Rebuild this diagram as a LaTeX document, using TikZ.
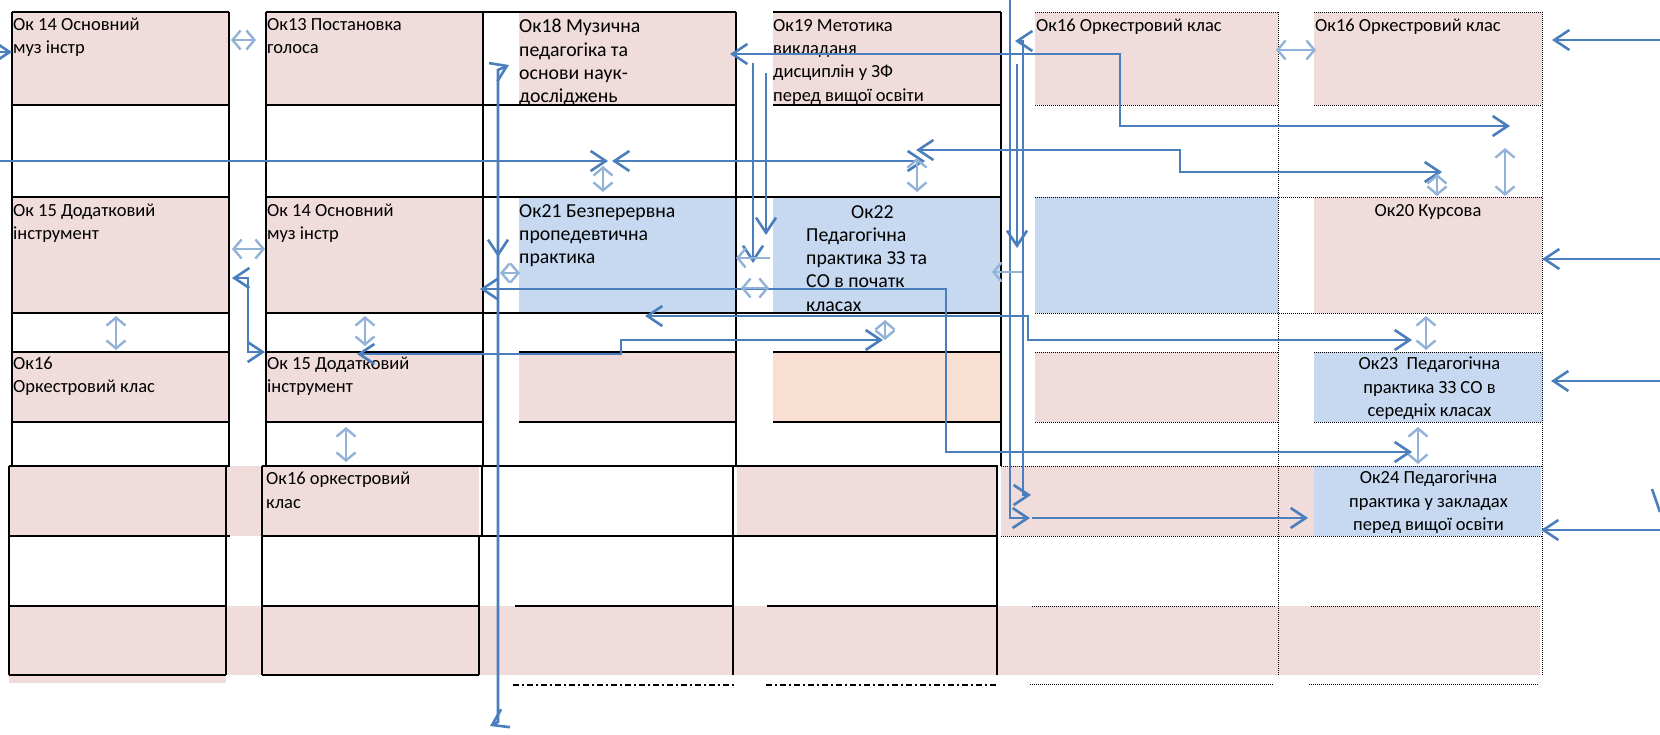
\documentclass[tikz,border=0pt]{standalone}
\usepackage{fontspec}
\setmainfont{Carlito}
\usetikzlibrary{positioning,arrows.meta}

\definecolor{cellpink}{RGB}{239,220,219}
\definecolor{cellblue}{RGB}{198,217,240}
\definecolor{cellpeach}{RGB}{249,223,210}
\definecolor{linkblue}{RGB}{74,126,188}

\begin{document}
\begin{tikzpicture}[
    x=1pt,y=-1pt,
    cell/.style n args={3}{
        fill=#1,minimum width=#2,minimum height=#3,
        anchor=north west,inner sep=0pt,outer sep=0pt
    },
    txt/.style={
        anchor=north west,inner sep=0pt,align=left,
        font=\fontsize{18.5}{23.3}\selectfont
    },
    bigtxt/.style={
        txt,font=\fontsize{19.8}{23.3}\selectfont
    },
    ctxt/.style={
        anchor=north,inner sep=0pt,align=center,
        font=\fontsize{18.5}{23.3}\selectfont
    },
    rule/.style={draw=black,line width=1.1pt},
    thickrule/.style={draw=black,line width=2.4pt},
    dotrule/.style={draw=black,line width=1pt,dash pattern=on 1pt off 1pt},
    dashdot_rule/.style={draw=black,line width=2pt,dash pattern=on 6pt off 3pt on 2pt off 3pt},
    link/.style={
        draw=linkblue,line width=2.6pt,
        >={Straight Barb[length=15pt,width=20pt]}
    },
    flick/.style={
        <->,draw=linkblue!60,line width=2.4pt,
        >={Straight Barb[length=8pt,width=19pt]}
    }
]
    \fill[white] (0,0) rectangle (1660,734);
    \useasboundingbox (0,0) rectangle (1660,734);

    % row 1
    \node[cell={cellpink}{217}{93}] (ok14a) at (12,12) {};
    \node[cell={cellpink}{217}{93}] (ok13) at (266,12) {};
    \node[cell={cellpink}{217}{93}] (ok18) at (519,12) {};
    \node[cell={cellpink}{228}{93}] (ok19) at (773,12) {};
    \node[cell={cellpink}{243}{93}] (ok16a) at (1035,12) {};
    \node[cell={cellpink}{228}{93}] (ok16b) at (1314,12) {};
    % row 3
    \node[cell={cellpink}{217}{116}] (ok15a) at (12,197) {};
    \node[cell={cellpink}{217}{116}] (ok14b) at (266,197) {};
    \node[cell={cellblue}{217}{116}] (ok21) at (519,197) {};
    \node[cell={cellblue}{228}{116}] (ok22) at (773,197) {};
    \node[cell={cellblue}{243}{116}] (free5) at (1035,197) {};
    \node[cell={cellpink}{228}{116}] (ok20) at (1314,197) {};
    % row 5
    \node[cell={cellpink}{217}{70}] (ok16c) at (12,352) {};
    \node[cell={cellpink}{217}{70}] (ok15b) at (266,352) {};
    \node[cell={cellpink}{217}{70}] (free3) at (519,352) {};
    \node[cell={cellpeach}{228}{70}] (free4) at (773,352) {};
    \node[cell={cellpink}{243}{70}] (free5b) at (1035,352) {};
    \node[cell={cellblue}{229}{70}] (ok23) at (1314,352) {};
    % lower table
    \node[cell={cellpink}{253}{70}] (low1) at (9,466) {};
    \node[cell={cellpink}{217}{70}] (ok16d) at (262,466) {};
    \node[cell={cellpink}{261}{70}] (low4) at (737,466) {};
    \node[cell={cellpink}{313}{70}] (low5) at (1001,466) {};
    \node[cell={cellblue}{227}{70}] (ok24) at (1314,466) {};
    \node[cell={cellpink}{1531}{69}] (low9) at (9,606) {};
    \node[cell={cellpink}{217}{8}] (low9a) at (9,675) {};

    % solid grid
    \foreach \y in {12,105,197,313,352,422}{
        \draw[rule] (12,\y) -- (229,\y);
        \draw[rule] (266,\y) -- (483,\y);
    }
    \foreach \y in {12,105,197,313} \draw[rule] (483,\y) -- (736,\y);
    \foreach \y in {352,422} \draw[rule] (519,\y) -- (736,\y);
    \foreach \y in {12,105,352,422} \draw[rule] (773,\y) -- (1001,\y);
    \foreach \y in {197,313} \draw[rule] (736,\y) -- (1001,\y);
    \foreach \x in {12,229,266,483,736,1001} \draw[rule] (\x,12) -- (\x,466);

    \draw[thickrule] (9,466) -- (230,466) (262,466) -- (998,466);
    \draw[thickrule] (9,536) -- (230,536) (262,536) -- (998,536);
    \draw[thickrule] (262,536) rectangle (479,606);
    \draw[rule] (9,606) -- (226,606) (515,606) -- (733,606);
    \draw[thickrule] (767,606) -- (997,606);
    \draw[rule] (9,675) -- (226,675) (262,675) -- (479,675);
    \foreach \x in {9,226,262,733,997} \draw[rule] (\x,466) -- (\x,675);
    \draw[thickrule] (482,466) -- (482,536);
    \draw[rule] (479,606) -- (479,675);

    % dotted grid
    \draw[dotrule] (1035,12) -- (1278,12) (1035,105) -- (1278,105);
    \draw[dotrule] (1314,12) -- (1542,12) (1314,105) -- (1542,105);
    \draw[dotrule] (1035,197) -- (1542,197) (1035,313) -- (1542,313);
    \draw[dotrule] (1035,352) -- (1278,352) (1035,422) -- (1278,422);
    \draw[dotrule] (1314,352) -- (1542,352) (1314,422) -- (1542,422);
    \draw[dotrule] (1001,466) -- (1542,466) (1001,536) -- (1542,536);
    \draw[dotrule] (1032,606) -- (1276,606) (1311,606) -- (1540,606);
    \draw[dotrule] (1030,684) -- (1274,684) (1309,684) -- (1539,684);
    \draw[dotrule] (1278,12) -- (1278,675) (1542,12) -- (1542,675);
    \draw[dashdot_rule] (513,685) -- (734,685) (766,685) -- (997,685);

    % texts
    \node[txt] (t14a) at ([shift={(1,6)}]ok14a.north west) {Ок 14 Основний\\муз інстр};
    \node[txt] (t13) at ([shift={(1,6)}]ok13.north west) {Ок13 Постановка\\голоса};
    \node[bigtxt] (t18) at ([shift={(0,7)}]ok18.north west) {Ок18 Музична\\педагогіка та\\основи наук-\\досліджень};
    \node[txt] (t19) at ([shift={(0,7)}]ok19.north west) {Ок19 Метотика\\викладаня\\дисциплін у ЗФ\\перед вищої освіти};
    \node[txt] (t16a) at ([shift={(1,7)}]ok16a.north west) {Ок16 Оркестровий клас};
    \node[txt] (t16b) at ([shift={(1,7)}]ok16b.north west) {Ок16 Оркестровий клас};
    \node[txt] (t15a) at ([shift={(1,7)}]ok15a.north west) {Ок 15 Додатковий\\інструмент};
    \node[txt] (t14b) at ([shift={(1,7)}]ok14b.north west) {Ок 14 Основний\\муз інстр};
    \node[bigtxt] (t21) at ([shift={(0,7)}]ok21.north west) {Ок21 Безперервна\\пропедевтична\\практика};
    \node[bigtxt] (t22) at ([shift={(33,8)}]ok22.north west) {\hspace*{45pt}Ок22\\Педагогічна\\практика ЗЗ та\\СО в початк\\класах};
    \node[ctxt] (t20) at ([shift={(0,7)}]ok20.north) {Ок20 Курсова};
    \node[txt] (t16c) at ([shift={(1,5)}]ok16c.north west) {Ок16\\Оркестровий клас};
    \node[txt] (t15b) at ([shift={(1,5)}]ok15b.north west) {Ок 15 Додатковий\\інструмент};
    \node[ctxt] (t23) at ([shift={(1,5)}]ok23.north) {Ок23\ \ Педагогічна\\практика ЗЗ СО в\\середніх класах};
    \node[txt] (t16d) at ([shift={(4,6)}]ok16d.north west) {Ок16 оркестровий\\клас};
    \node[ctxt] (t24) at ([shift={(1,5)}]ok24.north) {Ок24 Педагогічна\\практика у закладах\\перед вищої освіти};

    % connector ends
    \coordinate (inA) at (0,52);
    \coordinate (inB) at (1660,40);
    \coordinate (inC) at (1660,259);
    \coordinate (inD) at (1660,381);
    \coordinate (inE) at (1660,530);
    \coordinate (inL) at (0,161);
    \coordinate (midL) at (608,161);
    \coordinate (midR) at (612,161);
    \coordinate (endR) at (925,161);
    \coordinate (l4a) at (916,150);
    \coordinate (l4b) at (1442,172);
    \coordinate (l5a) at (730,54);
    \coordinate (l5b) at (1510,126);
    \coordinate (l1a) at (1010,0);
    \coordinate (l1b) at (1030,518);
    \coordinate (l1c) at (1032,518);
    \coordinate (l2a) at (1015,41);
    \coordinate (l2b) at (1031,495);
    \coordinate (l3a) at (1017,64);
    \coordinate (l3b) at (1017,248);
    \coordinate (l6a) at (645,316);
    \coordinate (l6b) at (1412,340);
    \coordinate (l7a) at (480,289);
    \coordinate (l7b) at (1412,452);
    \coordinate (l8a) at (509,65);
    \coordinate (l8b) at (490,726);
    \coordinate (l8c) at (498,200);
    \coordinate (l8d) at (498,257);
    \coordinate (l9a) at (357,354);
    \coordinate (l9b) at (883,340);
    \coordinate (l10a) at (232,278);
    \coordinate (l10b) at (265,352);
    \coordinate (l11a) at (753,63);
    \coordinate (l11b) at (753,263);
    \coordinate (l12a) at (766,73);
    \coordinate (l12b) at (766,235);

    % connectors
    \draw[link,->] (inA) -- (inA -| ok14a.west);
    \draw[link,->] (inB) -- ([xshift=10pt]inB -| ok16b.east);
    \draw[link,->] (inC) -- (inC -| ok20.east);
    \draw[link,->] (inD) -- ([xshift=8pt]inD -| ok23.east);
    \draw[link,->] (inE) -- (inE -| ok24.east);
    \draw[link] (1652,489) -- (1660,512);
    \draw[link,->] (inL) -- (midL);
    \draw[link,<->] (midR) -- (endR);
    \draw[link,<->] (l4a) -- ++(264,0) |- (l4b);
    \draw[link,<->] (l5a) -- ++(390,0) |- (l5b);
    \draw[link,->] (l1a) |- (l1b);
    \draw[link,->] (l1c) -- ([xshift=-6pt]l1c -| ok24.west);
    \draw[link,<->] (l2a) -- ++(8,0) |- (l2b);
    \draw[link,->] (l3a) -- (l3b);
    \draw[link,<->] (l6a) -- ++(383,0) |- (l6b);
    \draw[link,<->] (l7a) -- ++(466,0) |- (l7b);
    \draw[link,<->] (l8a) -- (498,70) -- (498,722) -- (l8b);
    \draw[link,->] (l8c) -- (l8d);
    \draw[link,<->] (l9a) -- ++(264,0) |- (l9b);
    \draw[link,<->] (l10a) -- ++(16,0) |- (l10b);
    \draw[link,->] (l11a) -- (l11b);
    \draw[link,->] (l12a) -- (l12b);

    % small faded double arrows
    \foreach \xa/\ya/\xb/\yb in {231/40/256/40, 232/249/265/249, 116/316/116/350,
        365/316/365/346, 346/427/346/462, 603/166/603/192, 917/158/917/192,
        741/288/769/288, 885/320/885/340, 500/273/520/273, 1276/50/1316/50,
        1505/148/1505/196, 1437/174/1437/196, 1426/316/1426/350, 1418/427/1418/464}
        \draw[flick] (\xa,\ya) -- (\xb,\yb);
    \draw[flick,->] (770,258) -- (736,258);
    \draw[flick,->] (1022,272) -- (992,272);
\end{tikzpicture}
\end{document}
